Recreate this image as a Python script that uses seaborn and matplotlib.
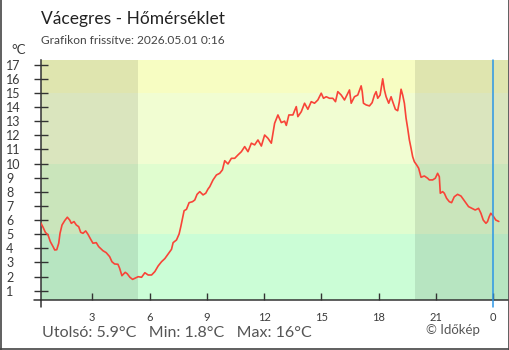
import matplotlib
matplotlib.use("Agg")
import matplotlib.pyplot as plt
from matplotlib.lines import Line2D
import seaborn as sns
import pandas as pd

# Hours since midnight of the previous day (24 = midnight of the current day)
hours = [
    0.303, 0.423, 0.544, 0.685, 0.805, 0.946, 1.035, 1.140, 1.244, 1.312,
    1.417, 1.558, 1.694, 1.819, 1.903, 2.044, 2.164, 2.290, 2.394, 2.514,
    2.656, 2.776, 2.917, 3.037, 3.210, 3.335, 3.560, 3.732, 3.910, 4.030,
    4.171, 4.344, 4.433, 4.553, 4.726, 4.830, 4.971, 5.112, 5.233, 5.405,
    5.583, 5.755, 5.928, 6.106, 6.278, 6.451, 6.628, 6.801, 6.973, 7.151,
    7.235, 7.412, 7.548, 7.637, 7.726, 7.810, 7.935, 8.071, 8.249, 8.369,
    8.489, 8.630, 8.803, 8.944, 9.064, 9.153, 9.326, 9.503, 9.676, 9.817,
    9.937, 10.110, 10.287, 10.460, 10.632, 10.810, 10.983, 11.155, 11.333, 11.505,
    11.678, 11.856, 12.028, 12.201, 12.378, 12.551, 12.724, 12.901, 13.074, 13.163,
    13.298, 13.508, 13.685, 13.769, 13.947, 14.119, 14.292, 14.469, 14.642, 14.815,
    14.992, 15.112, 15.254, 15.426, 15.599, 15.740, 15.860, 16.038, 16.210, 16.383,
    16.472, 16.561, 16.733, 16.905, 17.083, 17.140, 17.203, 17.344, 17.517, 17.658,
    17.779, 17.868, 17.951, 18.076, 18.212, 18.301, 18.390, 18.526, 18.651, 18.735,
    18.876, 18.996, 19.085, 19.174, 19.258, 19.347, 19.435, 19.519, 19.608, 19.697,
    19.780, 19.869, 19.989, 20.094, 20.220, 20.392, 20.565, 20.653, 20.826, 20.967,
    21.087, 21.176, 21.228, 21.349, 21.438, 21.558, 21.699, 21.819, 21.960, 22.133,
    22.311, 22.431, 22.572, 22.708, 22.886, 23.058, 23.231, 23.356, 23.476, 23.618,
    23.701, 23.790, 23.873, 23.994, 24.135, 24.292,
]
temps = [
    5.80, 5.49, 5.13, 4.94, 4.47, 4.12, 3.88, 3.90, 4.36, 5.06,
    5.65, 5.96, 6.20, 6.00, 5.77, 5.89, 5.65, 5.53, 5.13, 5.06,
    5.23, 4.99, 4.64, 4.36, 4.40, 4.12, 3.83, 3.69, 3.41, 3.05,
    2.89, 2.87, 2.59, 2.06, 2.30, 2.20, 1.95, 1.80, 1.88, 1.99,
    1.95, 2.27, 2.11, 2.11, 2.35, 2.75, 3.05, 3.27, 3.60, 3.93,
    4.40, 4.59, 5.01, 5.53, 6.13, 6.66, 6.76, 7.23, 7.30, 7.42,
    7.82, 8.01, 7.78, 7.90, 8.20, 8.36, 8.84, 9.19, 9.31, 9.55,
    10.20, 9.97, 10.37, 10.37, 10.61, 10.84, 11.20, 10.84, 11.44, 11.32,
    11.67, 11.24, 12.02, 11.79, 11.44, 12.85, 13.44, 12.90, 13.00, 12.70,
    13.44, 13.44, 14.03, 13.32, 13.67, 14.27, 13.84, 14.38, 14.27, 14.50,
    14.98, 14.62, 14.73, 14.62, 14.62, 14.38, 15.09, 14.85, 14.50, 14.98,
    15.21, 14.27, 14.73, 14.85, 15.50, 15.09, 14.27, 14.15, 14.08, 14.31,
    14.85, 15.09, 14.62, 14.85, 16.00, 15.21, 14.73, 14.27, 14.73, 14.38,
    13.84, 13.74, 14.38, 15.26, 14.85, 14.27, 13.21, 12.50, 11.67, 11.08,
    10.49, 10.13, 9.90, 9.67, 9.03, 9.12, 8.96, 8.84, 8.84, 8.96,
    9.31, 9.07, 7.90, 8.01, 7.90, 7.54, 7.30, 7.23, 7.65, 7.82,
    7.70, 7.47, 7.19, 6.95, 6.83, 6.71, 6.83, 6.48, 6.00, 5.77,
    5.89, 6.24, 6.48, 6.29, 6.00, 5.90,
]

tick_hours = [3, 6, 9, 12, 15, 18, 21, 24]
tick_labels = ["3", "6", "9", "12", "15", "18", "21", "0"]
y_ticks = list(range(1, 18))

band_edges = [5, 10, 15]
band_colors = ["#cbfdd6", "#e0fdcf", "#f1fdd2", "#f7fdc2"]
sunrise, sunset = 5.37, 19.92

title = "Vácegres - Hőmérséklet"
subtitle = "Grafikon frissítve: 2026.05.01 0:16"
credit = "© Időkép"

sns.set_style("ticks")
plt.rcParams["font.family"] = ["Lato", "DejaVu Sans"]

XMIN, XMAX = 0.30, 24.80
YMIN, YMAX = 0.34, 17.33
TXT = "#3a3a3a"
AXC = "#333333"

fig = plt.figure(figsize=(5.1, 3.5), dpi=100)
fig.patch.set_facecolor("white")
ax = fig.add_axes([40.7 / 510, 1 - 300 / 350, (508.5 - 40.7) / 510, 240 / 350])
ax.set_facecolor("white")

# Temperature bands
edges = [YMIN] + band_edges + [YMAX]
for lo, hi, c in zip(edges[:-1], edges[1:], band_colors):
    ax.axhspan(lo, hi, color=c, lw=0, zorder=0)
# Night shading
ax.axvspan(XMIN, sunrise, color="black", alpha=0.095, lw=0, zorder=0.5)
ax.axvspan(sunset, XMAX, color="black", alpha=0.095, lw=0, zorder=0.5)

df = pd.DataFrame({"hour": hours, "temp": temps})
sns.lineplot(data=df, x="hour", y="temp", ax=ax, color="#f84438", lw=1.2,
             zorder=3, legend=False)

# Midnight marker
ax.axvline(24, ymin=-0.028, ymax=1, color="#2c96e6", lw=1.1, clip_on=False, zorder=4)

ax.set_xlim(XMIN, XMAX)
ax.set_ylim(YMIN, YMAX)
ax.set_xlabel("")
ax.set_ylabel("")

sns.despine(ax=ax)
for s in ("left", "bottom"):
    ax.spines[s].set_color(AXC)
    ax.spines[s].set_linewidth(1.1)

ax.set_yticks(y_ticks)
ax.set_yticklabels([str(v) for v in y_ticks])
ax.tick_params(axis="y", direction="inout", length=9.4, width=1.0, color=AXC,
               pad=20.3, labelsize=9, labelcolor=TXT)
for lbl in ax.get_yticklabels():
    lbl.set_horizontalalignment("left")

ax.set_xticks(tick_hours)
ax.set_xticklabels(tick_labels)
ax.tick_params(axis="x", direction="in", length=4.8, width=1.0, color=AXC,
               pad=8.5, labelsize=8, labelcolor=TXT)

# Corner extensions of the axis lines
ax.add_line(Line2D([XMIN, XMIN], [0, -0.028], transform=ax.get_xaxis_transform(),
                   color=AXC, lw=1.1, clip_on=False))
ax.add_line(Line2D([-0.014, 0], [YMIN, YMIN], transform=ax.get_yaxis_transform(),
                   color=AXC, lw=1.1, clip_on=False))

fig.text(41 / 510, 1 - 19 / 350, title, fontsize=12.5, color="#222222", va="center", ha="left")
fig.text(41 / 510, 1 - 41 / 350, subtitle, fontsize=8.6, color="#444444", va="center", ha="left")
fig.text(11 / 510, 1 - 50 / 350, "°C", fontsize=9.5, color=TXT, va="center", ha="left")

last, tmin, tmax = temps[-1], min(temps), max(temps)
stats = f"Utolsó: {last:g}°C   Min: {tmin:g}°C   Max: {tmax:g}°C"
fig.text(41.5 / 510, 1 - 333 / 350, stats, fontsize=11.5, color="#555555", va="center", ha="left")
fig.text(426 / 510, 1 - 330 / 350, credit, fontsize=9.5, color="#555555", va="center", ha="left")

# Frame around the figure (left, right, bottom)
for xs, ys in (([0.5 / 510, 0.5 / 510], [0, 1]),
               ([509.5 / 510, 509.5 / 510], [0, 1]),
               ([0, 1], [0.7 / 350, 0.7 / 350])):
    fig.add_artist(Line2D(xs, ys, transform=fig.transFigure, color="#444444", lw=1.2))

fig.savefig("out.png", dpi=100)
